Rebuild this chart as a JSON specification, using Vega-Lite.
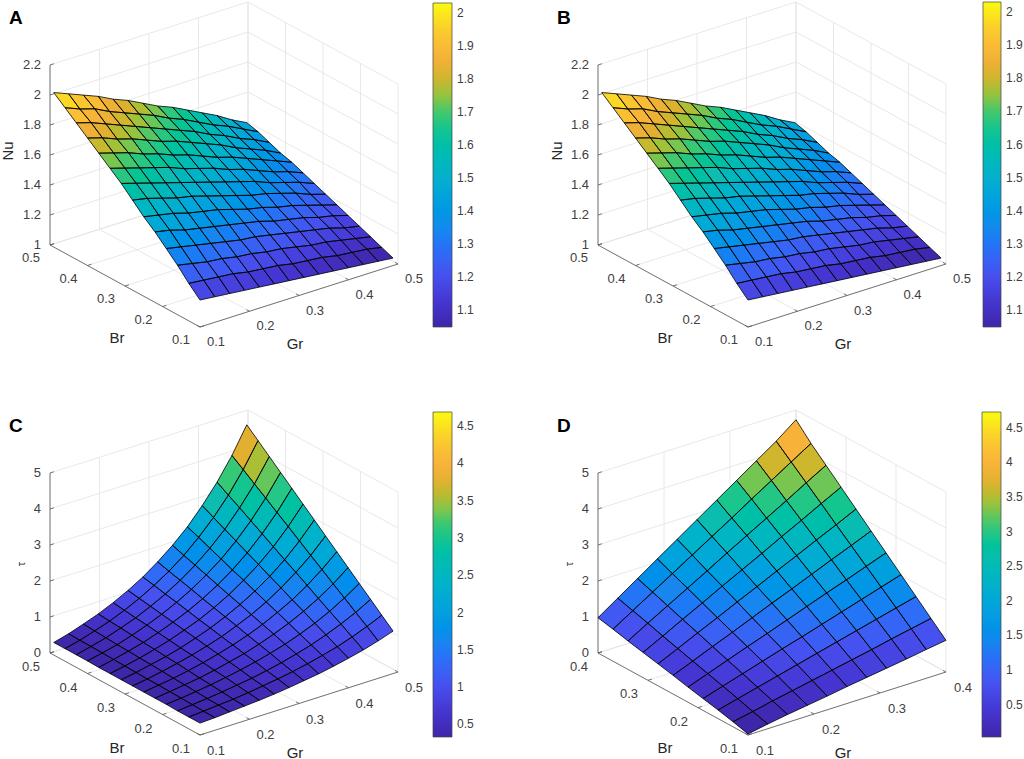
{
  "$schema": "https://vega.github.io/schema/vega-lite/v6.json",
  "padding": 0,
  "spacing": 0,
  "resolve": {"scale": {"x": "independent", "y": "independent", "fill": "independent"}, "legend": {"fill": "independent"}},
  "config": {"view": {"stroke": null}, "font": "Liberation Sans"},
  "datasets": {
    "ticksNu": [
      {"ax": "g", "v": 0.1}, {"ax": "g", "v": 0.2}, {"ax": "g", "v": 0.3}, {"ax": "g", "v": 0.4}, {"ax": "g", "v": 0.5},
      {"ax": "b", "v": 0.1}, {"ax": "b", "v": 0.2}, {"ax": "b", "v": 0.3}, {"ax": "b", "v": 0.4}, {"ax": "b", "v": 0.5},
      {"ax": "z", "v": 1}, {"ax": "z", "v": 1.2}, {"ax": "z", "v": 1.4}, {"ax": "z", "v": 1.6}, {"ax": "z", "v": 1.8}, {"ax": "z", "v": 2}, {"ax": "z", "v": 2.2}
    ],
    "ticksC": [
      {"ax": "g", "v": 0.1}, {"ax": "g", "v": 0.2}, {"ax": "g", "v": 0.3}, {"ax": "g", "v": 0.4}, {"ax": "g", "v": 0.5},
      {"ax": "b", "v": 0.1}, {"ax": "b", "v": 0.2}, {"ax": "b", "v": 0.3}, {"ax": "b", "v": 0.4}, {"ax": "b", "v": 0.5},
      {"ax": "z", "v": 0}, {"ax": "z", "v": 1}, {"ax": "z", "v": 2}, {"ax": "z", "v": 3}, {"ax": "z", "v": 4}, {"ax": "z", "v": 5}
    ],
    "ticksD": [
      {"ax": "g", "v": 0.1}, {"ax": "g", "v": 0.2}, {"ax": "g", "v": 0.3}, {"ax": "g", "v": 0.4},
      {"ax": "b", "v": 0.1}, {"ax": "b", "v": 0.2}, {"ax": "b", "v": 0.3}, {"ax": "b", "v": 0.4},
      {"ax": "z", "v": 0}, {"ax": "z", "v": 1}, {"ax": "z", "v": 2}, {"ax": "z", "v": 3}, {"ax": "z", "v": 4}, {"ax": "z", "v": 5}
    ],
    "nu": [
      {"g":0.1,"b":0.1,"z":1.18},{"g":0.13,"b":0.1,"z":1.17},{"g":0.16,"b":0.1,"z":1.16},{"g":0.19,"b":0.1,"z":1.15},{"g":0.22,"b":0.1,"z":1.14},{"g":0.25,"b":0.1,"z":1.13},{"g":0.28,"b":0.1,"z":1.12},{"g":0.31,"b":0.1,"z":1.11},{"g":0.34,"b":0.1,"z":1.1},{"g":0.37,"b":0.1,"z":1.09},{"g":0.4,"b":0.1,"z":1.08},{"g":0.43,"b":0.1,"z":1.07},{"g":0.46,"b":0.1,"z":1.06},{"g":0.49,"b":0.1,"z":1.05},
      {"g":0.1,"b":0.13,"z":1.25},{"g":0.13,"b":0.13,"z":1.24},{"g":0.16,"b":0.13,"z":1.23},{"g":0.19,"b":0.13,"z":1.22},{"g":0.22,"b":0.13,"z":1.2},{"g":0.25,"b":0.13,"z":1.19},{"g":0.28,"b":0.13,"z":1.18},{"g":0.31,"b":0.13,"z":1.16},{"g":0.34,"b":0.13,"z":1.15},{"g":0.37,"b":0.13,"z":1.14},{"g":0.4,"b":0.13,"z":1.12},{"g":0.43,"b":0.13,"z":1.11},{"g":0.46,"b":0.13,"z":1.1},{"g":0.49,"b":0.13,"z":1.08},
      {"g":0.1,"b":0.16,"z":1.33},{"g":0.13,"b":0.16,"z":1.31},{"g":0.16,"b":0.16,"z":1.29},{"g":0.19,"b":0.16,"z":1.28},{"g":0.22,"b":0.16,"z":1.26},{"g":0.25,"b":0.16,"z":1.25},{"g":0.28,"b":0.16,"z":1.23},{"g":0.31,"b":0.16,"z":1.22},{"g":0.34,"b":0.16,"z":1.2},{"g":0.37,"b":0.16,"z":1.18},{"g":0.4,"b":0.16,"z":1.17},{"g":0.43,"b":0.16,"z":1.15},{"g":0.46,"b":0.16,"z":1.13},{"g":0.49,"b":0.16,"z":1.11},
      {"g":0.1,"b":0.19,"z":1.4},{"g":0.13,"b":0.19,"z":1.38},{"g":0.16,"b":0.19,"z":1.36},{"g":0.19,"b":0.19,"z":1.34},{"g":0.22,"b":0.19,"z":1.32},{"g":0.25,"b":0.19,"z":1.3},{"g":0.28,"b":0.19,"z":1.29},{"g":0.31,"b":0.19,"z":1.27},{"g":0.34,"b":0.19,"z":1.25},{"g":0.37,"b":0.19,"z":1.23},{"g":0.4,"b":0.19,"z":1.21},{"g":0.43,"b":0.19,"z":1.19},{"g":0.46,"b":0.19,"z":1.16},{"g":0.49,"b":0.19,"z":1.14},
      {"g":0.1,"b":0.22,"z":1.47},{"g":0.13,"b":0.22,"z":1.45},{"g":0.16,"b":0.22,"z":1.42},{"g":0.19,"b":0.22,"z":1.4},{"g":0.22,"b":0.22,"z":1.38},{"g":0.25,"b":0.22,"z":1.36},{"g":0.28,"b":0.22,"z":1.34},{"g":0.31,"b":0.22,"z":1.32},{"g":0.34,"b":0.22,"z":1.29},{"g":0.37,"b":0.22,"z":1.27},{"g":0.4,"b":0.22,"z":1.25},{"g":0.43,"b":0.22,"z":1.22},{"g":0.46,"b":0.22,"z":1.2},{"g":0.49,"b":0.22,"z":1.17},
      {"g":0.1,"b":0.25,"z":1.53},{"g":0.13,"b":0.25,"z":1.51},{"g":0.16,"b":0.25,"z":1.49},{"g":0.19,"b":0.25,"z":1.46},{"g":0.22,"b":0.25,"z":1.44},{"g":0.25,"b":0.25,"z":1.42},{"g":0.28,"b":0.25,"z":1.39},{"g":0.31,"b":0.25,"z":1.36},{"g":0.34,"b":0.25,"z":1.34},{"g":0.37,"b":0.25,"z":1.31},{"g":0.4,"b":0.25,"z":1.29},{"g":0.43,"b":0.25,"z":1.26},{"g":0.46,"b":0.25,"z":1.23},{"g":0.49,"b":0.25,"z":1.2},
      {"g":0.1,"b":0.28,"z":1.6},{"g":0.13,"b":0.28,"z":1.58},{"g":0.16,"b":0.28,"z":1.55},{"g":0.19,"b":0.28,"z":1.52},{"g":0.22,"b":0.28,"z":1.5},{"g":0.25,"b":0.28,"z":1.47},{"g":0.28,"b":0.28,"z":1.44},{"g":0.31,"b":0.28,"z":1.41},{"g":0.34,"b":0.28,"z":1.38},{"g":0.37,"b":0.28,"z":1.36},{"g":0.4,"b":0.28,"z":1.33},{"g":0.43,"b":0.28,"z":1.3},{"g":0.46,"b":0.28,"z":1.26},{"g":0.49,"b":0.28,"z":1.23},
      {"g":0.1,"b":0.31,"z":1.67},{"g":0.13,"b":0.31,"z":1.64},{"g":0.16,"b":0.31,"z":1.61},{"g":0.19,"b":0.31,"z":1.58},{"g":0.22,"b":0.31,"z":1.55},{"g":0.25,"b":0.31,"z":1.52},{"g":0.28,"b":0.31,"z":1.49},{"g":0.31,"b":0.31,"z":1.46},{"g":0.34,"b":0.31,"z":1.43},{"g":0.37,"b":0.31,"z":1.4},{"g":0.4,"b":0.31,"z":1.36},{"g":0.43,"b":0.31,"z":1.33},{"g":0.46,"b":0.31,"z":1.3},{"g":0.49,"b":0.31,"z":1.26},
      {"g":0.1,"b":0.34,"z":1.73},{"g":0.13,"b":0.34,"z":1.7},{"g":0.16,"b":0.34,"z":1.67},{"g":0.19,"b":0.34,"z":1.64},{"g":0.22,"b":0.34,"z":1.61},{"g":0.25,"b":0.34,"z":1.57},{"g":0.28,"b":0.34,"z":1.54},{"g":0.31,"b":0.34,"z":1.51},{"g":0.34,"b":0.34,"z":1.47},{"g":0.37,"b":0.34,"z":1.44},{"g":0.4,"b":0.34,"z":1.4},{"g":0.43,"b":0.34,"z":1.36},{"g":0.46,"b":0.34,"z":1.33},{"g":0.49,"b":0.34,"z":1.29},
      {"g":0.1,"b":0.37,"z":1.79},{"g":0.13,"b":0.37,"z":1.76},{"g":0.16,"b":0.37,"z":1.73},{"g":0.19,"b":0.37,"z":1.69},{"g":0.22,"b":0.37,"z":1.66},{"g":0.25,"b":0.37,"z":1.62},{"g":0.28,"b":0.37,"z":1.59},{"g":0.31,"b":0.37,"z":1.55},{"g":0.34,"b":0.37,"z":1.51},{"g":0.37,"b":0.37,"z":1.48},{"g":0.4,"b":0.37,"z":1.44},{"g":0.43,"b":0.37,"z":1.4},{"g":0.46,"b":0.37,"z":1.36},{"g":0.49,"b":0.37,"z":1.32},
      {"g":0.1,"b":0.4,"z":1.85},{"g":0.13,"b":0.4,"z":1.82},{"g":0.16,"b":0.4,"z":1.78},{"g":0.19,"b":0.4,"z":1.75},{"g":0.22,"b":0.4,"z":1.71},{"g":0.25,"b":0.4,"z":1.67},{"g":0.28,"b":0.4,"z":1.64},{"g":0.31,"b":0.4,"z":1.6},{"g":0.34,"b":0.4,"z":1.56},{"g":0.37,"b":0.4,"z":1.52},{"g":0.4,"b":0.4,"z":1.47},{"g":0.43,"b":0.4,"z":1.43},{"g":0.46,"b":0.4,"z":1.39},{"g":0.49,"b":0.4,"z":1.34},
      {"g":0.1,"b":0.43,"z":1.91},{"g":0.13,"b":0.43,"z":1.88},{"g":0.16,"b":0.43,"z":1.84},{"g":0.19,"b":0.43,"z":1.8},{"g":0.22,"b":0.43,"z":1.76},{"g":0.25,"b":0.43,"z":1.72},{"g":0.28,"b":0.43,"z":1.68},{"g":0.31,"b":0.43,"z":1.64},{"g":0.34,"b":0.43,"z":1.6},{"g":0.37,"b":0.43,"z":1.55},{"g":0.4,"b":0.43,"z":1.51},{"g":0.43,"b":0.43,"z":1.46},{"g":0.46,"b":0.43,"z":1.42},{"g":0.49,"b":0.43,"z":1.37},
      {"g":0.1,"b":0.46,"z":1.97},{"g":0.13,"b":0.46,"z":1.93},{"g":0.16,"b":0.46,"z":1.9},{"g":0.19,"b":0.46,"z":1.85},{"g":0.22,"b":0.46,"z":1.81},{"g":0.25,"b":0.46,"z":1.77},{"g":0.28,"b":0.46,"z":1.73},{"g":0.31,"b":0.46,"z":1.68},{"g":0.34,"b":0.46,"z":1.64},{"g":0.37,"b":0.46,"z":1.59},{"g":0.4,"b":0.46,"z":1.54},{"g":0.43,"b":0.46,"z":1.5},{"g":0.46,"b":0.46,"z":1.45},{"g":0.49,"b":0.46,"z":1.4},
      {"g":0.1,"b":0.49,"z":2.03},{"g":0.13,"b":0.49,"z":1.99},{"g":0.16,"b":0.49,"z":1.95},{"g":0.19,"b":0.49,"z":1.91},{"g":0.22,"b":0.49,"z":1.86},{"g":0.25,"b":0.49,"z":1.82},{"g":0.28,"b":0.49,"z":1.77},{"g":0.31,"b":0.49,"z":1.72},{"g":0.34,"b":0.49,"z":1.68},{"g":0.37,"b":0.49,"z":1.63},{"g":0.4,"b":0.49,"z":1.58},{"g":0.43,"b":0.49,"z":1.53},{"g":0.46,"b":0.49,"z":1.47},{"g":0.49,"b":0.49,"z":1.42}
    ],
    "tauC": [
      {"g":0.1,"b":0.1,"z":0.33},{"g":0.13,"b":0.1,"z":0.35},{"g":0.16,"b":0.1,"z":0.38},{"g":0.19,"b":0.1,"z":0.41},{"g":0.22,"b":0.1,"z":0.44},{"g":0.25,"b":0.1,"z":0.48},{"g":0.28,"b":0.1,"z":0.53},{"g":0.31,"b":0.1,"z":0.59},{"g":0.34,"b":0.1,"z":0.65},{"g":0.37,"b":0.1,"z":0.73},{"g":0.4,"b":0.1,"z":0.82},{"g":0.43,"b":0.1,"z":0.92},{"g":0.46,"b":0.1,"z":1.04},{"g":0.49,"b":0.1,"z":1.18},
      {"g":0.1,"b":0.13,"z":0.33},{"g":0.13,"b":0.13,"z":0.36},{"g":0.16,"b":0.13,"z":0.4},{"g":0.19,"b":0.13,"z":0.43},{"g":0.22,"b":0.13,"z":0.48},{"g":0.25,"b":0.13,"z":0.54},{"g":0.28,"b":0.13,"z":0.6},{"g":0.31,"b":0.13,"z":0.67},{"g":0.34,"b":0.13,"z":0.76},{"g":0.37,"b":0.13,"z":0.86},{"g":0.4,"b":0.13,"z":0.97},{"g":0.43,"b":0.13,"z":1.11},{"g":0.46,"b":0.13,"z":1.27},{"g":0.49,"b":0.13,"z":1.45},
      {"g":0.1,"b":0.16,"z":0.33},{"g":0.13,"b":0.16,"z":0.37},{"g":0.16,"b":0.16,"z":0.41},{"g":0.19,"b":0.16,"z":0.46},{"g":0.22,"b":0.16,"z":0.52},{"g":0.25,"b":0.16,"z":0.58},{"g":0.28,"b":0.16,"z":0.66},{"g":0.31,"b":0.16,"z":0.75},{"g":0.34,"b":0.16,"z":0.86},{"g":0.37,"b":0.16,"z":0.98},{"g":0.4,"b":0.16,"z":1.13},{"g":0.43,"b":0.16,"z":1.3},{"g":0.46,"b":0.16,"z":1.49},{"g":0.49,"b":0.16,"z":1.72},
      {"g":0.1,"b":0.19,"z":0.34},{"g":0.13,"b":0.19,"z":0.38},{"g":0.16,"b":0.19,"z":0.43},{"g":0.19,"b":0.19,"z":0.49},{"g":0.22,"b":0.19,"z":0.56},{"g":0.25,"b":0.19,"z":0.64},{"g":0.28,"b":0.19,"z":0.73},{"g":0.31,"b":0.19,"z":0.84},{"g":0.34,"b":0.19,"z":0.96},{"g":0.37,"b":0.19,"z":1.11},{"g":0.4,"b":0.19,"z":1.28},{"g":0.43,"b":0.19,"z":1.48},{"g":0.46,"b":0.19,"z":1.72},{"g":0.49,"b":0.19,"z":1.99},
      {"g":0.1,"b":0.22,"z":0.34},{"g":0.13,"b":0.22,"z":0.39},{"g":0.16,"b":0.22,"z":0.45},{"g":0.19,"b":0.22,"z":0.51},{"g":0.22,"b":0.22,"z":0.59},{"g":0.25,"b":0.22,"z":0.69},{"g":0.28,"b":0.22,"z":0.79},{"g":0.31,"b":0.22,"z":0.92},{"g":0.34,"b":0.22,"z":1.07},{"g":0.37,"b":0.22,"z":1.24},{"g":0.4,"b":0.22,"z":1.44},{"g":0.43,"b":0.22,"z":1.67},{"g":0.46,"b":0.22,"z":1.94},{"g":0.49,"b":0.22,"z":2.26},
      {"g":0.1,"b":0.25,"z":0.34},{"g":0.13,"b":0.25,"z":0.4},{"g":0.16,"b":0.25,"z":0.46},{"g":0.19,"b":0.25,"z":0.54},{"g":0.22,"b":0.25,"z":0.63},{"g":0.25,"b":0.25,"z":0.74},{"g":0.28,"b":0.25,"z":0.86},{"g":0.31,"b":0.25,"z":1},{"g":0.34,"b":0.25,"z":1.17},{"g":0.37,"b":0.25,"z":1.37},{"g":0.4,"b":0.25,"z":1.59},{"g":0.43,"b":0.25,"z":1.86},{"g":0.46,"b":0.25,"z":2.17},{"g":0.49,"b":0.25,"z":2.53},
      {"g":0.1,"b":0.28,"z":0.34},{"g":0.13,"b":0.28,"z":0.4},{"g":0.16,"b":0.28,"z":0.48},{"g":0.19,"b":0.28,"z":0.57},{"g":0.22,"b":0.28,"z":0.67},{"g":0.25,"b":0.28,"z":0.79},{"g":0.28,"b":0.28,"z":0.92},{"g":0.31,"b":0.28,"z":1.09},{"g":0.34,"b":0.28,"z":1.27},{"g":0.37,"b":0.28,"z":1.49},{"g":0.4,"b":0.28,"z":1.75},{"g":0.43,"b":0.28,"z":2.05},{"g":0.46,"b":0.28,"z":2.39},{"g":0.49,"b":0.28,"z":2.8},
      {"g":0.1,"b":0.31,"z":0.34},{"g":0.13,"b":0.31,"z":0.41},{"g":0.16,"b":0.31,"z":0.5},{"g":0.19,"b":0.31,"z":0.59},{"g":0.22,"b":0.31,"z":0.7},{"g":0.25,"b":0.31,"z":0.84},{"g":0.28,"b":0.31,"z":0.99},{"g":0.31,"b":0.31,"z":1.17},{"g":0.34,"b":0.31,"z":1.38},{"g":0.37,"b":0.31,"z":1.62},{"g":0.4,"b":0.31,"z":1.9},{"g":0.43,"b":0.31,"z":2.23},{"g":0.46,"b":0.31,"z":2.62},{"g":0.49,"b":0.31,"z":3.07},
      {"g":0.1,"b":0.34,"z":0.34},{"g":0.13,"b":0.34,"z":0.42},{"g":0.16,"b":0.34,"z":0.51},{"g":0.19,"b":0.34,"z":0.62},{"g":0.22,"b":0.34,"z":0.74},{"g":0.25,"b":0.34,"z":0.89},{"g":0.28,"b":0.34,"z":1.05},{"g":0.31,"b":0.34,"z":1.25},{"g":0.34,"b":0.34,"z":1.48},{"g":0.37,"b":0.34,"z":1.75},{"g":0.4,"b":0.34,"z":2.06},{"g":0.43,"b":0.34,"z":2.42},{"g":0.46,"b":0.34,"z":2.85},{"g":0.49,"b":0.34,"z":3.34},
      {"g":0.1,"b":0.37,"z":0.34},{"g":0.13,"b":0.37,"z":0.43},{"g":0.16,"b":0.37,"z":0.53},{"g":0.19,"b":0.37,"z":0.64},{"g":0.22,"b":0.37,"z":0.78},{"g":0.25,"b":0.37,"z":0.94},{"g":0.28,"b":0.37,"z":1.12},{"g":0.31,"b":0.37,"z":1.33},{"g":0.34,"b":0.37,"z":1.58},{"g":0.37,"b":0.37,"z":1.87},{"g":0.4,"b":0.37,"z":2.21},{"g":0.43,"b":0.37,"z":2.61},{"g":0.46,"b":0.37,"z":3.07},{"g":0.49,"b":0.37,"z":3.61},
      {"g":0.1,"b":0.4,"z":0.35},{"g":0.13,"b":0.4,"z":0.44},{"g":0.16,"b":0.4,"z":0.54},{"g":0.19,"b":0.4,"z":0.67},{"g":0.22,"b":0.4,"z":0.82},{"g":0.25,"b":0.4,"z":0.99},{"g":0.28,"b":0.4,"z":1.19},{"g":0.31,"b":0.4,"z":1.42},{"g":0.34,"b":0.4,"z":1.69},{"g":0.37,"b":0.4,"z":2},{"g":0.4,"b":0.4,"z":2.37},{"g":0.43,"b":0.4,"z":2.8},{"g":0.46,"b":0.4,"z":3.3},{"g":0.49,"b":0.4,"z":3.88},
      {"g":0.1,"b":0.43,"z":0.35},{"g":0.13,"b":0.43,"z":0.45},{"g":0.16,"b":0.43,"z":0.56},{"g":0.19,"b":0.43,"z":0.7},{"g":0.22,"b":0.43,"z":0.85},{"g":0.25,"b":0.43,"z":1.04},{"g":0.28,"b":0.43,"z":1.25},{"g":0.31,"b":0.43,"z":1.5},{"g":0.34,"b":0.43,"z":1.79},{"g":0.37,"b":0.43,"z":2.13},{"g":0.4,"b":0.43,"z":2.52},{"g":0.43,"b":0.43,"z":2.99},{"g":0.46,"b":0.43,"z":3.52},{"g":0.49,"b":0.43,"z":4.15},
      {"g":0.1,"b":0.46,"z":0.35},{"g":0.13,"b":0.46,"z":0.45},{"g":0.16,"b":0.46,"z":0.58},{"g":0.19,"b":0.46,"z":0.72},{"g":0.22,"b":0.46,"z":0.89},{"g":0.25,"b":0.46,"z":1.09},{"g":0.28,"b":0.46,"z":1.32},{"g":0.31,"b":0.46,"z":1.58},{"g":0.34,"b":0.46,"z":1.89},{"g":0.37,"b":0.46,"z":2.26},{"g":0.4,"b":0.46,"z":2.68},{"g":0.43,"b":0.46,"z":3.17},{"g":0.46,"b":0.46,"z":3.75},{"g":0.49,"b":0.46,"z":4.42},
      {"g":0.1,"b":0.49,"z":0.35},{"g":0.13,"b":0.49,"z":0.46},{"g":0.16,"b":0.49,"z":0.6},{"g":0.19,"b":0.49,"z":0.75},{"g":0.22,"b":0.49,"z":0.93},{"g":0.25,"b":0.49,"z":1.14},{"g":0.28,"b":0.49,"z":1.38},{"g":0.31,"b":0.49,"z":1.67},{"g":0.34,"b":0.49,"z":2},{"g":0.37,"b":0.49,"z":2.38},{"g":0.4,"b":0.49,"z":2.84},{"g":0.43,"b":0.49,"z":3.36},{"g":0.46,"b":0.49,"z":3.97},{"g":0.49,"b":0.49,"z":4.69}
    ],
    "tauD": [
      {"g":0.1,"b":0.1,"z":0.03},{"g":0.13,"b":0.1,"z":0.13},{"g":0.16,"b":0.1,"z":0.22},{"g":0.19,"b":0.1,"z":0.3},{"g":0.22,"b":0.1,"z":0.38},{"g":0.25,"b":0.1,"z":0.47},{"g":0.28,"b":0.1,"z":0.55},{"g":0.31,"b":0.1,"z":0.63},{"g":0.34,"b":0.1,"z":0.71},{"g":0.37,"b":0.1,"z":0.8},{"g":0.4,"b":0.1,"z":0.88},
      {"g":0.1,"b":0.13,"z":0.14},{"g":0.13,"b":0.13,"z":0.25},{"g":0.16,"b":0.13,"z":0.37},{"g":0.19,"b":0.13,"z":0.48},{"g":0.22,"b":0.13,"z":0.59},{"g":0.25,"b":0.13,"z":0.7},{"g":0.28,"b":0.13,"z":0.81},{"g":0.31,"b":0.13,"z":0.92},{"g":0.34,"b":0.13,"z":1.04},{"g":0.37,"b":0.13,"z":1.15},{"g":0.4,"b":0.13,"z":1.26},
      {"g":0.1,"b":0.16,"z":0.24},{"g":0.13,"b":0.16,"z":0.38},{"g":0.16,"b":0.16,"z":0.52},{"g":0.19,"b":0.16,"z":0.66},{"g":0.22,"b":0.16,"z":0.8},{"g":0.25,"b":0.16,"z":0.94},{"g":0.28,"b":0.16,"z":1.08},{"g":0.31,"b":0.16,"z":1.22},{"g":0.34,"b":0.16,"z":1.36},{"g":0.37,"b":0.16,"z":1.5},{"g":0.4,"b":0.16,"z":1.64},
      {"g":0.1,"b":0.19,"z":0.33},{"g":0.13,"b":0.19,"z":0.5},{"g":0.16,"b":0.19,"z":0.67},{"g":0.19,"b":0.19,"z":0.84},{"g":0.22,"b":0.19,"z":1.01},{"g":0.25,"b":0.19,"z":1.17},{"g":0.28,"b":0.19,"z":1.34},{"g":0.31,"b":0.19,"z":1.51},{"g":0.34,"b":0.19,"z":1.68},{"g":0.37,"b":0.19,"z":1.85},{"g":0.4,"b":0.19,"z":2.02},
      {"g":0.1,"b":0.22,"z":0.42},{"g":0.13,"b":0.22,"z":0.62},{"g":0.16,"b":0.22,"z":0.82},{"g":0.19,"b":0.22,"z":1.02},{"g":0.22,"b":0.22,"z":1.21},{"g":0.25,"b":0.22,"z":1.41},{"g":0.28,"b":0.22,"z":1.61},{"g":0.31,"b":0.22,"z":1.81},{"g":0.34,"b":0.22,"z":2},{"g":0.37,"b":0.22,"z":2.2},{"g":0.4,"b":0.22,"z":2.4},
      {"g":0.1,"b":0.25,"z":0.52},{"g":0.13,"b":0.25,"z":0.74},{"g":0.16,"b":0.25,"z":0.97},{"g":0.19,"b":0.25,"z":1.19},{"g":0.22,"b":0.25,"z":1.42},{"g":0.25,"b":0.25,"z":1.65},{"g":0.28,"b":0.25,"z":1.87},{"g":0.31,"b":0.25,"z":2.1},{"g":0.34,"b":0.25,"z":2.33},{"g":0.37,"b":0.25,"z":2.55},{"g":0.4,"b":0.25,"z":2.78},
      {"g":0.1,"b":0.28,"z":0.61},{"g":0.13,"b":0.28,"z":0.86},{"g":0.16,"b":0.28,"z":1.12},{"g":0.19,"b":0.28,"z":1.37},{"g":0.22,"b":0.28,"z":1.63},{"g":0.25,"b":0.28,"z":1.88},{"g":0.28,"b":0.28,"z":2.14},{"g":0.31,"b":0.28,"z":2.39},{"g":0.34,"b":0.28,"z":2.65},{"g":0.37,"b":0.28,"z":2.9},{"g":0.4,"b":0.28,"z":3.16},
      {"g":0.1,"b":0.31,"z":0.7},{"g":0.13,"b":0.31,"z":0.98},{"g":0.16,"b":0.31,"z":1.27},{"g":0.19,"b":0.31,"z":1.55},{"g":0.22,"b":0.31,"z":1.84},{"g":0.25,"b":0.31,"z":2.12},{"g":0.28,"b":0.31,"z":2.4},{"g":0.31,"b":0.31,"z":2.69},{"g":0.34,"b":0.31,"z":2.97},{"g":0.37,"b":0.31,"z":3.26},{"g":0.4,"b":0.31,"z":3.54},
      {"g":0.1,"b":0.34,"z":0.79},{"g":0.13,"b":0.34,"z":1.11},{"g":0.16,"b":0.34,"z":1.42},{"g":0.19,"b":0.34,"z":1.73},{"g":0.22,"b":0.34,"z":2.04},{"g":0.25,"b":0.34,"z":2.36},{"g":0.28,"b":0.34,"z":2.67},{"g":0.31,"b":0.34,"z":2.98},{"g":0.34,"b":0.34,"z":3.29},{"g":0.37,"b":0.34,"z":3.61},{"g":0.4,"b":0.34,"z":3.92},
      {"g":0.1,"b":0.37,"z":0.89},{"g":0.13,"b":0.37,"z":1.23},{"g":0.16,"b":0.37,"z":1.57},{"g":0.19,"b":0.37,"z":1.91},{"g":0.22,"b":0.37,"z":2.25},{"g":0.25,"b":0.37,"z":2.59},{"g":0.28,"b":0.37,"z":2.93},{"g":0.31,"b":0.37,"z":3.28},{"g":0.34,"b":0.37,"z":3.62},{"g":0.37,"b":0.37,"z":3.96},{"g":0.4,"b":0.37,"z":4.3},
      {"g":0.1,"b":0.4,"z":0.98},{"g":0.13,"b":0.4,"z":1.35},{"g":0.16,"b":0.4,"z":1.72},{"g":0.19,"b":0.4,"z":2.09},{"g":0.22,"b":0.4,"z":2.46},{"g":0.25,"b":0.4,"z":2.83},{"g":0.28,"b":0.4,"z":3.2},{"g":0.31,"b":0.4,"z":3.57},{"g":0.34,"b":0.4,"z":3.94},{"g":0.37,"b":0.4,"z":4.31},{"g":0.4,"b":0.4,"z":4.73}
    ]
  },
  "vconcat": [
    {
      "spacing": 0,
      "bounds": "flush",
      "resolve": {"scale": {"x": "independent", "y": "independent", "fill": "independent"}, "legend": {"fill": "independent"}},
      "hconcat": [
        {
          "width": 512, "height": 408,
          "layer": [
            {
              "data": {"name": "ticksNu"},
              "transform": [
                {"calculate": "[0,1,2]", "as": "k"},
                {"flatten": ["k"]},
                {"calculate": "datum.ax + datum.v", "as": "id"},
                {"calculate": "datum.ax=='g' ? datum.v : (datum.k==0 ? 0.1 : 0.5)", "as": "g"},
                {"calculate": "datum.ax=='b' ? datum.v : (datum.ax=='z' ? (datum.k==2 ? 0.1 : 0.5) : (datum.k==0 ? 0.1 : 0.5))", "as": "b"},
                {"calculate": "datum.ax=='z' ? datum.v : (datum.k==2 ? 2.2 : 1)", "as": "z"},
                {"calculate": "200 + 495*(datum.g-0.1) - 375*(datum.b-0.1)", "as": "px"},
                {"calculate": "327 - 157.5*(datum.g-0.1) - 205*(datum.b-0.1) - 150*(datum.z-1)", "as": "py"}
              ],
              "encoding": {
                "x": {"field": "px", "type": "quantitative", "scale": {"domain": [0, 512], "nice": false, "zero": false}, "axis": null},
                "y": {"field": "py", "type": "quantitative", "scale": {"domain": [0, 408], "reverse": true, "nice": false, "zero": false}, "axis": null},
                "detail": {"field": "id", "type": "nominal"},
                "order": {"field": "k", "type": "quantitative"}
              },
              "layer": [
                {"mark": {"type": "line", "stroke": "#e2e2e2", "strokeWidth": 0.8}},
                {"transform": [{"filter": "(datum.ax=='g' && datum.v==0.1) || (datum.ax=='b' && datum.v==0.1 && datum.k<2)"}], "mark": {"type": "line", "stroke": "#555555", "strokeWidth": 0.8}}
              ]
            },
            {
              "data": {"name": "ticksNu"},
              "transform": [
                {"calculate": "[0,1]", "as": "k"},
                {"flatten": ["k"]},
                {"calculate": "datum.ax + datum.v", "as": "id"},
                {"calculate": "datum.ax=='g' ? datum.v : 0.1 + 0.008*datum.k", "as": "g"},
                {"calculate": "datum.ax=='g' ? 0.1 + 0.008*datum.k : (datum.ax=='b' ? datum.v : 0.5)", "as": "b"},
                {"calculate": "datum.ax=='z' ? datum.v : 1", "as": "z"},
                {"calculate": "200 + 495*(datum.g-0.1) - 375*(datum.b-0.1)", "as": "px"},
                {"calculate": "327 - 157.5*(datum.g-0.1) - 205*(datum.b-0.1) - 150*(datum.z-1)", "as": "py"}
              ],
              "mark": {"type": "line", "stroke": "#555555", "strokeWidth": 0.8},
              "encoding": {
                "x": {"field": "px", "type": "quantitative", "scale": {"domain": [0, 512], "nice": false, "zero": false}, "axis": null},
                "y": {"field": "py", "type": "quantitative", "scale": {"domain": [0, 408], "reverse": true, "nice": false, "zero": false}, "axis": null},
                "detail": {"field": "id", "type": "nominal"},
                "order": {"field": "k", "type": "quantitative"}
              }
            },
            {
              "data": {"name": "nu"},
              "transform": [
                {"calculate": "round((datum.g-0.1)/0.03)", "as": "i"},
                {"calculate": "round((datum.b-0.1)/0.03)", "as": "j"},
                {"joinaggregate": [{"op": "max", "field": "i", "as": "n"}]},
                {"calculate": "[0,1,2,3,4]", "as": "k"},
                {"flatten": ["k"]},
                {"calculate": "datum.i - ((datum.k==1 || datum.k==2) ? 1 : 0)", "as": "qi"},
                {"calculate": "datum.j - ((datum.k==2 || datum.k==3) ? 1 : 0)", "as": "qj"},
                {"filter": "datum.qi >= 0 && datum.qj >= 0 && datum.qi < datum.n && datum.qj < datum.n"},
                {"calculate": "datum.qi*100 + datum.qj", "as": "q"},
                {"calculate": "datum.k==0 ? datum.z : -1e9", "as": "c0"},
                {"joinaggregate": [{"op": "max", "field": "c0", "as": "c"}], "groupby": ["q"]},
                {"calculate": "200 + 495*(datum.g-0.1) - 375*(datum.b-0.1)", "as": "px"},
                {"calculate": "327 - 157.5*(datum.g-0.1) - 205*(datum.b-0.1) - 150*(datum.z-1)", "as": "py"}
              ],
              "encoding": {
                "x": {"field": "px", "type": "quantitative", "scale": {"domain": [0, 512], "nice": false, "zero": false}, "axis": null},
                "y": {"field": "py", "type": "quantitative", "scale": {"domain": [0, 408], "reverse": true, "nice": false, "zero": false}, "axis": null},
                "detail": {"field": "q", "type": "nominal"},
                "order": {"field": "k", "type": "quantitative"}
              },
              "layer": [
                {
                  "mark": {"type": "line", "strokeOpacity": 0},
                  "encoding": {
                    "fill": {
                      "field": "c", "type": "quantitative",
                      "scale": {
                        "domain": [1.05, 1.1284, 1.2068, 1.2852, 1.344, 1.4224, 1.5008, 1.5792, 1.6576, 1.6968, 1.7556, 1.8144, 1.8732, 1.9516, 2.03],
                        "range": ["#3e26a8", "#4535d2", "#4750ef", "#2e6ef7", "#1a88ee", "#0a9ee0", "#05b0cd", "#10bcb0", "#1ec68a", "#3cc870", "#9cc23c", "#e0b030", "#f8b23a", "#face2c", "#f9fb0e"]
                      },
                      "legend": {"orient": "none", "legendX": 433, "legendY": 3, "direction": "vertical", "gradientLength": 324, "gradientThickness": 19, "title": null, "padding": 0, "values": [1.1, 1.2, 1.3, 1.4, 1.5, 1.6, 1.7, 1.8, 1.9, 2], "format": ".2~g", "labelFontSize": 12, "labelColor": "#404040", "labelFont": "Liberation Sans", "labelOffset": 5, "labelOverlap": false, "labelFlush": false, "gradientStrokeColor": "#444444", "gradientStrokeWidth": 0.7}
                    }
                  }
                },
                {"mark": {"type": "line", "stroke": "#000000", "strokeWidth": 0.8}}
              ]
            },
            {
              "data": {"name": "ticksNu"},
              "transform": [
                {"calculate": "datum.ax=='g' ? datum.v : 0.1", "as": "g"},
                {"calculate": "datum.ax=='b' ? datum.v : (datum.ax=='z' ? 0.5 : 0.1)", "as": "b"},
                {"calculate": "datum.ax=='z' ? datum.v : 1", "as": "z"},
                {"calculate": "200 + 495*(datum.g-0.1) - 375*(datum.b-0.1)", "as": "px"},
                {"calculate": "327 - 157.5*(datum.g-0.1) - 205*(datum.b-0.1) - 150*(datum.z-1)", "as": "py"}
              ],
              "encoding": {
                "x": {"field": "px", "type": "quantitative", "scale": {"domain": [0, 512], "nice": false, "zero": false}, "axis": null},
                "y": {"field": "py", "type": "quantitative", "scale": {"domain": [0, 408], "reverse": true, "nice": false, "zero": false}, "axis": null}
              },
              "layer": [
                {"transform": [{"filter": "datum.ax=='z'"}], "mark": {"type": "text", "align": "right", "baseline": "middle", "dx": -9, "fontSize": 13, "color": "#404040"}, "encoding": {"text": {"field": "v", "type": "quantitative", "format": "~g"}}},
                {"transform": [{"filter": "datum.ax=='b'"}], "mark": {"type": "text", "align": "center", "baseline": "middle", "dx": -19, "dy": 13, "fontSize": 13, "color": "#404040"}, "encoding": {"text": {"field": "v", "type": "quantitative", "format": "~g"}}},
                {"transform": [{"filter": "datum.ax=='g'"}], "mark": {"type": "text", "align": "center", "baseline": "middle", "dx": 16, "dy": 15, "fontSize": 13, "color": "#404040"}, "encoding": {"text": {"field": "v", "type": "quantitative", "format": "~g"}}},
                {"transform": [{"filter": "datum.ax=='z' && datum.v==1.6"}], "mark": {"type": "text", "text": "Nu", "angle": 270, "align": "center", "baseline": "middle", "dx": 4, "dy": -42, "fontSize": 15, "color": "#262626"}},
                {"transform": [{"filter": "datum.ax=='b' && datum.v==0.3"}], "mark": {"type": "text", "text": "Br", "align": "center", "baseline": "middle", "dx": -8, "dy": 52, "fontSize": 15, "color": "#262626"}},
                {"transform": [{"filter": "datum.ax=='g' && datum.v==0.3"}], "mark": {"type": "text", "text": "Gr", "align": "center", "baseline": "middle", "dx": -4, "dy": 48, "fontSize": 15, "color": "#262626"}},
                {"transform": [{"filter": "datum.ax=='z' && datum.v==2.2"}], "mark": {"type": "text", "text": "A", "align": "left", "baseline": "alphabetic", "dx": -41, "dy": -41, "fontSize": 19, "fontWeight": "bold", "color": "#000000"}}
              ]
            }
          ]
        },
        {
          "width": 512, "height": 408,
          "layer": [
            {
              "data": {"name": "ticksNu"},
              "transform": [
                {"calculate": "[0,1,2]", "as": "k"},
                {"flatten": ["k"]},
                {"calculate": "datum.ax + datum.v", "as": "id"},
                {"calculate": "datum.ax=='g' ? datum.v : (datum.k==0 ? 0.1 : 0.5)", "as": "g"},
                {"calculate": "datum.ax=='b' ? datum.v : (datum.ax=='z' ? (datum.k==2 ? 0.1 : 0.5) : (datum.k==0 ? 0.1 : 0.5))", "as": "b"},
                {"calculate": "datum.ax=='z' ? datum.v : (datum.k==2 ? 2.2 : 1)", "as": "z"},
                {"calculate": "748 + 495*(datum.g-0.1) - 375*(datum.b-0.1)", "as": "px"},
                {"calculate": "327 - 157.5*(datum.g-0.1) - 205*(datum.b-0.1) - 150*(datum.z-1)", "as": "py"}
              ],
              "encoding": {
                "x": {"field": "px", "type": "quantitative", "scale": {"domain": [512, 1024], "nice": false, "zero": false}, "axis": null},
                "y": {"field": "py", "type": "quantitative", "scale": {"domain": [0, 408], "reverse": true, "nice": false, "zero": false}, "axis": null},
                "detail": {"field": "id", "type": "nominal"},
                "order": {"field": "k", "type": "quantitative"}
              },
              "layer": [
                {"mark": {"type": "line", "stroke": "#e2e2e2", "strokeWidth": 0.8}},
                {"transform": [{"filter": "(datum.ax=='g' && datum.v==0.1) || (datum.ax=='b' && datum.v==0.1 && datum.k<2)"}], "mark": {"type": "line", "stroke": "#555555", "strokeWidth": 0.8}}
              ]
            },
            {
              "data": {"name": "ticksNu"},
              "transform": [
                {"calculate": "[0,1]", "as": "k"},
                {"flatten": ["k"]},
                {"calculate": "datum.ax + datum.v", "as": "id"},
                {"calculate": "datum.ax=='g' ? datum.v : 0.1 + 0.008*datum.k", "as": "g"},
                {"calculate": "datum.ax=='g' ? 0.1 + 0.008*datum.k : (datum.ax=='b' ? datum.v : 0.5)", "as": "b"},
                {"calculate": "datum.ax=='z' ? datum.v : 1", "as": "z"},
                {"calculate": "748 + 495*(datum.g-0.1) - 375*(datum.b-0.1)", "as": "px"},
                {"calculate": "327 - 157.5*(datum.g-0.1) - 205*(datum.b-0.1) - 150*(datum.z-1)", "as": "py"}
              ],
              "mark": {"type": "line", "stroke": "#555555", "strokeWidth": 0.8},
              "encoding": {
                "x": {"field": "px", "type": "quantitative", "scale": {"domain": [512, 1024], "nice": false, "zero": false}, "axis": null},
                "y": {"field": "py", "type": "quantitative", "scale": {"domain": [0, 408], "reverse": true, "nice": false, "zero": false}, "axis": null},
                "detail": {"field": "id", "type": "nominal"},
                "order": {"field": "k", "type": "quantitative"}
              }
            },
            {
              "data": {"name": "nu"},
              "transform": [
                {"calculate": "round((datum.g-0.1)/0.03)", "as": "i"},
                {"calculate": "round((datum.b-0.1)/0.03)", "as": "j"},
                {"joinaggregate": [{"op": "max", "field": "i", "as": "n"}]},
                {"calculate": "[0,1,2,3,4]", "as": "k"},
                {"flatten": ["k"]},
                {"calculate": "datum.i - ((datum.k==1 || datum.k==2) ? 1 : 0)", "as": "qi"},
                {"calculate": "datum.j - ((datum.k==2 || datum.k==3) ? 1 : 0)", "as": "qj"},
                {"filter": "datum.qi >= 0 && datum.qj >= 0 && datum.qi < datum.n && datum.qj < datum.n"},
                {"calculate": "datum.qi*100 + datum.qj", "as": "q"},
                {"calculate": "datum.k==0 ? datum.z : -1e9", "as": "c0"},
                {"joinaggregate": [{"op": "max", "field": "c0", "as": "c"}], "groupby": ["q"]},
                {"calculate": "748 + 495*(datum.g-0.1) - 375*(datum.b-0.1)", "as": "px"},
                {"calculate": "327 - 157.5*(datum.g-0.1) - 205*(datum.b-0.1) - 150*(datum.z-1)", "as": "py"}
              ],
              "encoding": {
                "x": {"field": "px", "type": "quantitative", "scale": {"domain": [512, 1024], "nice": false, "zero": false}, "axis": null},
                "y": {"field": "py", "type": "quantitative", "scale": {"domain": [0, 408], "reverse": true, "nice": false, "zero": false}, "axis": null},
                "detail": {"field": "q", "type": "nominal"},
                "order": {"field": "k", "type": "quantitative"}
              },
              "layer": [
                {
                  "mark": {"type": "line", "strokeOpacity": 0},
                  "encoding": {
                    "fill": {
                      "field": "c", "type": "quantitative",
                      "scale": {
                        "domain": [1.05, 1.1284, 1.2068, 1.2852, 1.344, 1.4224, 1.5008, 1.5792, 1.6576, 1.6968, 1.7556, 1.8144, 1.8732, 1.9516, 2.03],
                        "range": ["#3e26a8", "#4535d2", "#4750ef", "#2e6ef7", "#1a88ee", "#0a9ee0", "#05b0cd", "#10bcb0", "#1ec68a", "#3cc870", "#9cc23c", "#e0b030", "#f8b23a", "#face2c", "#f9fb0e"]
                      },
                      "legend": {"orient": "none", "legendX": 471, "legendY": 2, "direction": "vertical", "gradientLength": 325, "gradientThickness": 18, "title": null, "padding": 0, "values": [1.1, 1.2, 1.3, 1.4, 1.5, 1.6, 1.7, 1.8, 1.9, 2], "format": ".2~g", "labelFontSize": 12, "labelColor": "#404040", "labelFont": "Liberation Sans", "labelOffset": 5, "labelOverlap": false, "labelFlush": false, "gradientStrokeColor": "#444444", "gradientStrokeWidth": 0.7}
                    }
                  }
                },
                {"mark": {"type": "line", "stroke": "#000000", "strokeWidth": 0.8}}
              ]
            },
            {
              "data": {"name": "ticksNu"},
              "transform": [
                {"calculate": "datum.ax=='g' ? datum.v : 0.1", "as": "g"},
                {"calculate": "datum.ax=='b' ? datum.v : (datum.ax=='z' ? 0.5 : 0.1)", "as": "b"},
                {"calculate": "datum.ax=='z' ? datum.v : 1", "as": "z"},
                {"calculate": "748 + 495*(datum.g-0.1) - 375*(datum.b-0.1)", "as": "px"},
                {"calculate": "327 - 157.5*(datum.g-0.1) - 205*(datum.b-0.1) - 150*(datum.z-1)", "as": "py"}
              ],
              "encoding": {
                "x": {"field": "px", "type": "quantitative", "scale": {"domain": [512, 1024], "nice": false, "zero": false}, "axis": null},
                "y": {"field": "py", "type": "quantitative", "scale": {"domain": [0, 408], "reverse": true, "nice": false, "zero": false}, "axis": null}
              },
              "layer": [
                {"transform": [{"filter": "datum.ax=='z'"}], "mark": {"type": "text", "align": "right", "baseline": "middle", "dx": -9, "fontSize": 13, "color": "#404040"}, "encoding": {"text": {"field": "v", "type": "quantitative", "format": "~g"}}},
                {"transform": [{"filter": "datum.ax=='b'"}], "mark": {"type": "text", "align": "center", "baseline": "middle", "dx": -19, "dy": 13, "fontSize": 13, "color": "#404040"}, "encoding": {"text": {"field": "v", "type": "quantitative", "format": "~g"}}},
                {"transform": [{"filter": "datum.ax=='g'"}], "mark": {"type": "text", "align": "center", "baseline": "middle", "dx": 16, "dy": 15, "fontSize": 13, "color": "#404040"}, "encoding": {"text": {"field": "v", "type": "quantitative", "format": "~g"}}},
                {"transform": [{"filter": "datum.ax=='z' && datum.v==1.6"}], "mark": {"type": "text", "text": "Nu", "angle": 270, "align": "center", "baseline": "middle", "dx": 4, "dy": -41, "fontSize": 15, "color": "#262626"}},
                {"transform": [{"filter": "datum.ax=='b' && datum.v==0.3"}], "mark": {"type": "text", "text": "Br", "align": "center", "baseline": "middle", "dx": -8, "dy": 52, "fontSize": 15, "color": "#262626"}},
                {"transform": [{"filter": "datum.ax=='g' && datum.v==0.3"}], "mark": {"type": "text", "text": "Gr", "align": "center", "baseline": "middle", "dx": -4, "dy": 48, "fontSize": 15, "color": "#262626"}},
                {"transform": [{"filter": "datum.ax=='z' && datum.v==2.2"}], "mark": {"type": "text", "text": "B", "align": "left", "baseline": "alphabetic", "dx": -41, "dy": -41, "fontSize": 19, "fontWeight": "bold", "color": "#000000"}}
              ]
            }
          ]
        }
      ]
    },
    {
      "spacing": 0,
      "bounds": "flush",
      "resolve": {"scale": {"x": "independent", "y": "independent", "fill": "independent"}, "legend": {"fill": "independent"}},
      "hconcat": [
        {
          "width": 512, "height": 351,
          "layer": [
            {
              "data": {"name": "ticksC"},
              "transform": [
                {"calculate": "[0,1,2]", "as": "k"},
                {"flatten": ["k"]},
                {"calculate": "datum.ax + datum.v", "as": "id"},
                {"calculate": "datum.ax=='g' ? datum.v : (datum.k==0 ? 0.1 : 0.5)", "as": "g"},
                {"calculate": "datum.ax=='b' ? datum.v : (datum.ax=='z' ? (datum.k==2 ? 0.1 : 0.5) : (datum.k==0 ? 0.1 : 0.5))", "as": "b"},
                {"calculate": "datum.ax=='z' ? datum.v : (datum.k==2 ? 5 : 0)", "as": "z"},
                {"calculate": "200 + 495*(datum.g-0.1) - 375*(datum.b-0.1)", "as": "px"},
                {"calculate": "734 - 157.5*(datum.g-0.1) - 205*(datum.b-0.1) - 36*datum.z", "as": "py"}
              ],
              "encoding": {
                "x": {"field": "px", "type": "quantitative", "scale": {"domain": [0, 512], "nice": false, "zero": false}, "axis": null},
                "y": {"field": "py", "type": "quantitative", "scale": {"domain": [408, 759], "reverse": true, "nice": false, "zero": false}, "axis": null},
                "detail": {"field": "id", "type": "nominal"},
                "order": {"field": "k", "type": "quantitative"}
              },
              "layer": [
                {"mark": {"type": "line", "stroke": "#e2e2e2", "strokeWidth": 0.8}},
                {"transform": [{"filter": "(datum.ax=='g' && datum.v==0.1) || (datum.ax=='b' && datum.v==0.1 && datum.k<2)"}], "mark": {"type": "line", "stroke": "#555555", "strokeWidth": 0.8}}
              ]
            },
            {
              "data": {"name": "ticksC"},
              "transform": [
                {"calculate": "[0,1]", "as": "k"},
                {"flatten": ["k"]},
                {"calculate": "datum.ax + datum.v", "as": "id"},
                {"calculate": "datum.ax=='g' ? datum.v : 0.1 + 0.008*datum.k", "as": "g"},
                {"calculate": "datum.ax=='g' ? 0.1 + 0.008*datum.k : (datum.ax=='b' ? datum.v : 0.5)", "as": "b"},
                {"calculate": "datum.ax=='z' ? datum.v : 0", "as": "z"},
                {"calculate": "200 + 495*(datum.g-0.1) - 375*(datum.b-0.1)", "as": "px"},
                {"calculate": "734 - 157.5*(datum.g-0.1) - 205*(datum.b-0.1) - 36*datum.z", "as": "py"}
              ],
              "mark": {"type": "line", "stroke": "#555555", "strokeWidth": 0.8},
              "encoding": {
                "x": {"field": "px", "type": "quantitative", "scale": {"domain": [0, 512], "nice": false, "zero": false}, "axis": null},
                "y": {"field": "py", "type": "quantitative", "scale": {"domain": [408, 759], "reverse": true, "nice": false, "zero": false}, "axis": null},
                "detail": {"field": "id", "type": "nominal"},
                "order": {"field": "k", "type": "quantitative"}
              }
            },
            {
              "data": {"name": "tauC"},
              "transform": [
                {"calculate": "round((datum.g-0.1)/0.03)", "as": "i"},
                {"calculate": "round((datum.b-0.1)/0.03)", "as": "j"},
                {"joinaggregate": [{"op": "max", "field": "i", "as": "n"}]},
                {"calculate": "[0,1,2,3,4]", "as": "k"},
                {"flatten": ["k"]},
                {"calculate": "datum.i - ((datum.k==1 || datum.k==2) ? 1 : 0)", "as": "qi"},
                {"calculate": "datum.j - ((datum.k==2 || datum.k==3) ? 1 : 0)", "as": "qj"},
                {"filter": "datum.qi >= 0 && datum.qj >= 0 && datum.qi < datum.n && datum.qj < datum.n"},
                {"calculate": "datum.qi*100 + datum.qj", "as": "q"},
                {"calculate": "datum.k==0 ? datum.z : -1e9", "as": "c0"},
                {"joinaggregate": [{"op": "max", "field": "c0", "as": "c"}], "groupby": ["q"]},
                {"calculate": "200 + 495*(datum.g-0.1) - 375*(datum.b-0.1)", "as": "px"},
                {"calculate": "734 - 157.5*(datum.g-0.1) - 205*(datum.b-0.1) - 36*datum.z", "as": "py"}
              ],
              "encoding": {
                "x": {"field": "px", "type": "quantitative", "scale": {"domain": [0, 512], "nice": false, "zero": false}, "axis": null},
                "y": {"field": "py", "type": "quantitative", "scale": {"domain": [408, 759], "reverse": true, "nice": false, "zero": false}, "axis": null},
                "detail": {"field": "q", "type": "nominal"},
                "order": {"field": "k", "type": "quantitative"}
              },
              "layer": [
                {
                  "mark": {"type": "line", "strokeOpacity": 0},
                  "encoding": {
                    "fill": {
                      "field": "c", "type": "quantitative",
                      "scale": {
                        "domain": [0.33, 0.6788, 1.0276, 1.3764, 1.638, 1.9868, 2.3356, 2.6844, 3.0332, 3.2076, 3.4692, 3.7308, 3.9924, 4.3412, 4.69],
                        "range": ["#3e26a8", "#4535d2", "#4750ef", "#2e6ef7", "#1a88ee", "#0a9ee0", "#05b0cd", "#10bcb0", "#1ec68a", "#3cc870", "#9cc23c", "#e0b030", "#f8b23a", "#face2c", "#f9fb0e"]
                      },
                      "legend": {"orient": "none", "legendX": 433, "legendY": 3, "direction": "vertical", "gradientLength": 325, "gradientThickness": 19, "title": null, "padding": 0, "values": [0.5, 1, 1.5, 2, 2.5, 3, 3.5, 4, 4.5], "format": ".2~g", "labelFontSize": 12, "labelColor": "#404040", "labelFont": "Liberation Sans", "labelOffset": 5, "labelOverlap": false, "labelFlush": false, "gradientStrokeColor": "#444444", "gradientStrokeWidth": 0.7}
                    }
                  }
                },
                {"mark": {"type": "line", "stroke": "#000000", "strokeWidth": 0.8}}
              ]
            },
            {
              "data": {"name": "ticksC"},
              "transform": [
                {"calculate": "datum.ax=='g' ? datum.v : 0.1", "as": "g"},
                {"calculate": "datum.ax=='b' ? datum.v : (datum.ax=='z' ? 0.5 : 0.1)", "as": "b"},
                {"calculate": "datum.ax=='z' ? datum.v : 0", "as": "z"},
                {"calculate": "200 + 495*(datum.g-0.1) - 375*(datum.b-0.1)", "as": "px"},
                {"calculate": "734 - 157.5*(datum.g-0.1) - 205*(datum.b-0.1) - 36*datum.z", "as": "py"}
              ],
              "encoding": {
                "x": {"field": "px", "type": "quantitative", "scale": {"domain": [0, 512], "nice": false, "zero": false}, "axis": null},
                "y": {"field": "py", "type": "quantitative", "scale": {"domain": [408, 759], "reverse": true, "nice": false, "zero": false}, "axis": null}
              },
              "layer": [
                {"transform": [{"filter": "datum.ax=='z'"}], "mark": {"type": "text", "align": "right", "baseline": "middle", "dx": -9, "fontSize": 13, "color": "#404040"}, "encoding": {"text": {"field": "v", "type": "quantitative", "format": "~g"}}},
                {"transform": [{"filter": "datum.ax=='b'"}], "mark": {"type": "text", "align": "center", "baseline": "middle", "dx": -19, "dy": 14, "fontSize": 13, "color": "#404040"}, "encoding": {"text": {"field": "v", "type": "quantitative", "format": "~g"}}},
                {"transform": [{"filter": "datum.ax=='g'"}], "mark": {"type": "text", "align": "center", "baseline": "middle", "dx": 16, "dy": 16, "fontSize": 13, "color": "#404040"}, "encoding": {"text": {"field": "v", "type": "quantitative", "format": "~g"}}},
                {"transform": [{"filter": "datum.ax=='z' && datum.v==2"}], "mark": {"type": "text", "text": "τ", "angle": 270, "align": "center", "baseline": "middle", "dx": 17, "dy": -28, "fontSize": 11, "color": "#262626"}},
                {"transform": [{"filter": "datum.ax=='b' && datum.v==0.3"}], "mark": {"type": "text", "text": "Br", "align": "center", "baseline": "middle", "dx": -8, "dy": 54, "fontSize": 15, "color": "#262626"}},
                {"transform": [{"filter": "datum.ax=='g' && datum.v==0.3"}], "mark": {"type": "text", "text": "Gr", "align": "center", "baseline": "middle", "dx": -4, "dy": 49, "fontSize": 15, "color": "#262626"}},
                {"transform": [{"filter": "datum.ax=='z' && datum.v==5"}], "mark": {"type": "text", "text": "C", "align": "left", "baseline": "alphabetic", "dx": -41, "dy": -41, "fontSize": 19, "fontWeight": "bold", "color": "#000000"}}
              ]
            }
          ]
        },
        {
          "width": 512, "height": 351,
          "layer": [
            {
              "data": {"name": "ticksD"},
              "transform": [
                {"calculate": "[0,1,2]", "as": "k"},
                {"flatten": ["k"]},
                {"calculate": "datum.ax + datum.v", "as": "id"},
                {"calculate": "datum.ax=='g' ? datum.v : (datum.k==0 ? 0.1 : 0.4)", "as": "g"},
                {"calculate": "datum.ax=='b' ? datum.v : (datum.ax=='z' ? (datum.k==2 ? 0.1 : 0.4) : (datum.k==0 ? 0.1 : 0.4))", "as": "b"},
                {"calculate": "datum.ax=='z' ? datum.v : (datum.k==2 ? 5 : 0)", "as": "z"},
                {"calculate": "748 + 660*(datum.g-0.1) - 500*(datum.b-0.1)", "as": "px"},
                {"calculate": "734 - 210*(datum.g-0.1) - 273.3*(datum.b-0.1) - 36*datum.z", "as": "py"}
              ],
              "encoding": {
                "x": {"field": "px", "type": "quantitative", "scale": {"domain": [512, 1024], "nice": false, "zero": false}, "axis": null},
                "y": {"field": "py", "type": "quantitative", "scale": {"domain": [408, 759], "reverse": true, "nice": false, "zero": false}, "axis": null},
                "detail": {"field": "id", "type": "nominal"},
                "order": {"field": "k", "type": "quantitative"}
              },
              "layer": [
                {"mark": {"type": "line", "stroke": "#e2e2e2", "strokeWidth": 0.8}},
                {"transform": [{"filter": "(datum.ax=='g' && datum.v==0.1) || (datum.ax=='b' && datum.v==0.1 && datum.k<2)"}], "mark": {"type": "line", "stroke": "#555555", "strokeWidth": 0.8}}
              ]
            },
            {
              "data": {"name": "ticksD"},
              "transform": [
                {"calculate": "[0,1]", "as": "k"},
                {"flatten": ["k"]},
                {"calculate": "datum.ax + datum.v", "as": "id"},
                {"calculate": "datum.ax=='g' ? datum.v : 0.1 + 0.006*datum.k", "as": "g"},
                {"calculate": "datum.ax=='g' ? 0.1 + 0.006*datum.k : (datum.ax=='b' ? datum.v : 0.4)", "as": "b"},
                {"calculate": "datum.ax=='z' ? datum.v : 0", "as": "z"},
                {"calculate": "748 + 660*(datum.g-0.1) - 500*(datum.b-0.1)", "as": "px"},
                {"calculate": "734 - 210*(datum.g-0.1) - 273.3*(datum.b-0.1) - 36*datum.z", "as": "py"}
              ],
              "mark": {"type": "line", "stroke": "#555555", "strokeWidth": 0.8},
              "encoding": {
                "x": {"field": "px", "type": "quantitative", "scale": {"domain": [512, 1024], "nice": false, "zero": false}, "axis": null},
                "y": {"field": "py", "type": "quantitative", "scale": {"domain": [408, 759], "reverse": true, "nice": false, "zero": false}, "axis": null},
                "detail": {"field": "id", "type": "nominal"},
                "order": {"field": "k", "type": "quantitative"}
              }
            },
            {
              "data": {"name": "tauD"},
              "transform": [
                {"calculate": "round((datum.g-0.1)/0.03)", "as": "i"},
                {"calculate": "round((datum.b-0.1)/0.03)", "as": "j"},
                {"joinaggregate": [{"op": "max", "field": "i", "as": "n"}]},
                {"calculate": "[0,1,2,3,4]", "as": "k"},
                {"flatten": ["k"]},
                {"calculate": "datum.i - ((datum.k==1 || datum.k==2) ? 1 : 0)", "as": "qi"},
                {"calculate": "datum.j - ((datum.k==2 || datum.k==3) ? 1 : 0)", "as": "qj"},
                {"filter": "datum.qi >= 0 && datum.qj >= 0 && datum.qi < datum.n && datum.qj < datum.n"},
                {"calculate": "datum.qi*100 + datum.qj", "as": "q"},
                {"calculate": "datum.k==0 ? datum.z : -1e9", "as": "c0"},
                {"joinaggregate": [{"op": "max", "field": "c0", "as": "c"}], "groupby": ["q"]},
                {"calculate": "748 + 660*(datum.g-0.1) - 500*(datum.b-0.1)", "as": "px"},
                {"calculate": "734 - 210*(datum.g-0.1) - 273.3*(datum.b-0.1) - 36*datum.z", "as": "py"}
              ],
              "encoding": {
                "x": {"field": "px", "type": "quantitative", "scale": {"domain": [512, 1024], "nice": false, "zero": false}, "axis": null},
                "y": {"field": "py", "type": "quantitative", "scale": {"domain": [408, 759], "reverse": true, "nice": false, "zero": false}, "axis": null},
                "detail": {"field": "q", "type": "nominal"},
                "order": {"field": "k", "type": "quantitative"}
              },
              "layer": [
                {
                  "mark": {"type": "line", "strokeOpacity": 0},
                  "encoding": {
                    "fill": {
                      "field": "c", "type": "quantitative",
                      "scale": {
                        "domain": [0.03, 0.406, 0.782, 1.158, 1.44, 1.816, 2.192, 2.568, 2.944, 3.132, 3.414, 3.696, 3.978, 4.354, 4.73],
                        "range": ["#3e26a8", "#4535d2", "#4750ef", "#2e6ef7", "#1a88ee", "#0a9ee0", "#05b0cd", "#10bcb0", "#1ec68a", "#3cc870", "#9cc23c", "#e0b030", "#f8b23a", "#face2c", "#f9fb0e"]
                      },
                      "legend": {"orient": "none", "legendX": 470, "legendY": 3, "direction": "vertical", "gradientLength": 325, "gradientThickness": 19, "title": null, "padding": 0, "values": [0.5, 1, 1.5, 2, 2.5, 3, 3.5, 4, 4.5], "format": ".2~g", "labelFontSize": 12, "labelColor": "#404040", "labelFont": "Liberation Sans", "labelOffset": 5, "labelOverlap": false, "labelFlush": false, "gradientStrokeColor": "#444444", "gradientStrokeWidth": 0.7}
                    }
                  }
                },
                {"mark": {"type": "line", "stroke": "#000000", "strokeWidth": 0.8}}
              ]
            },
            {
              "data": {"name": "ticksD"},
              "transform": [
                {"calculate": "datum.ax=='g' ? datum.v : 0.1", "as": "g"},
                {"calculate": "datum.ax=='b' ? datum.v : (datum.ax=='z' ? 0.4 : 0.1)", "as": "b"},
                {"calculate": "datum.ax=='z' ? datum.v : 0", "as": "z"},
                {"calculate": "748 + 660*(datum.g-0.1) - 500*(datum.b-0.1)", "as": "px"},
                {"calculate": "734 - 210*(datum.g-0.1) - 273.3*(datum.b-0.1) - 36*datum.z", "as": "py"}
              ],
              "encoding": {
                "x": {"field": "px", "type": "quantitative", "scale": {"domain": [512, 1024], "nice": false, "zero": false}, "axis": null},
                "y": {"field": "py", "type": "quantitative", "scale": {"domain": [408, 759], "reverse": true, "nice": false, "zero": false}, "axis": null}
              },
              "layer": [
                {"transform": [{"filter": "datum.ax=='z'"}], "mark": {"type": "text", "align": "right", "baseline": "middle", "dx": -9, "fontSize": 13, "color": "#404040"}, "encoding": {"text": {"field": "v", "type": "quantitative", "format": "~g"}}},
                {"transform": [{"filter": "datum.ax=='b'"}], "mark": {"type": "text", "align": "center", "baseline": "middle", "dx": -19, "dy": 14, "fontSize": 13, "color": "#404040"}, "encoding": {"text": {"field": "v", "type": "quantitative", "format": "~g"}}},
                {"transform": [{"filter": "datum.ax=='g'"}], "mark": {"type": "text", "align": "center", "baseline": "middle", "dx": 17, "dy": 16, "fontSize": 13, "color": "#404040"}, "encoding": {"text": {"field": "v", "type": "quantitative", "format": "~g"}}},
                {"transform": [{"filter": "datum.ax=='z' && datum.v==2"}], "mark": {"type": "text", "text": "τ", "angle": 270, "align": "center", "baseline": "middle", "dx": 17, "dy": -28, "fontSize": 11, "color": "#262626"}},
                {"transform": [{"filter": "datum.ax=='b' && datum.v==0.2"}], "mark": {"type": "text", "text": "Br", "align": "center", "baseline": "middle", "dx": -33, "dy": 40, "fontSize": 15, "color": "#262626"}},
                {"transform": [{"filter": "datum.ax=='g' && datum.v==0.2"}], "mark": {"type": "text", "text": "Gr", "align": "center", "baseline": "middle", "dx": 29, "dy": 39, "fontSize": 15, "color": "#262626"}},
                {"transform": [{"filter": "datum.ax=='z' && datum.v==5"}], "mark": {"type": "text", "text": "D", "align": "left", "baseline": "alphabetic", "dx": -41, "dy": -41, "fontSize": 19, "fontWeight": "bold", "color": "#000000"}}
              ]
            }
          ]
        }
      ]
    }
  ]
}
